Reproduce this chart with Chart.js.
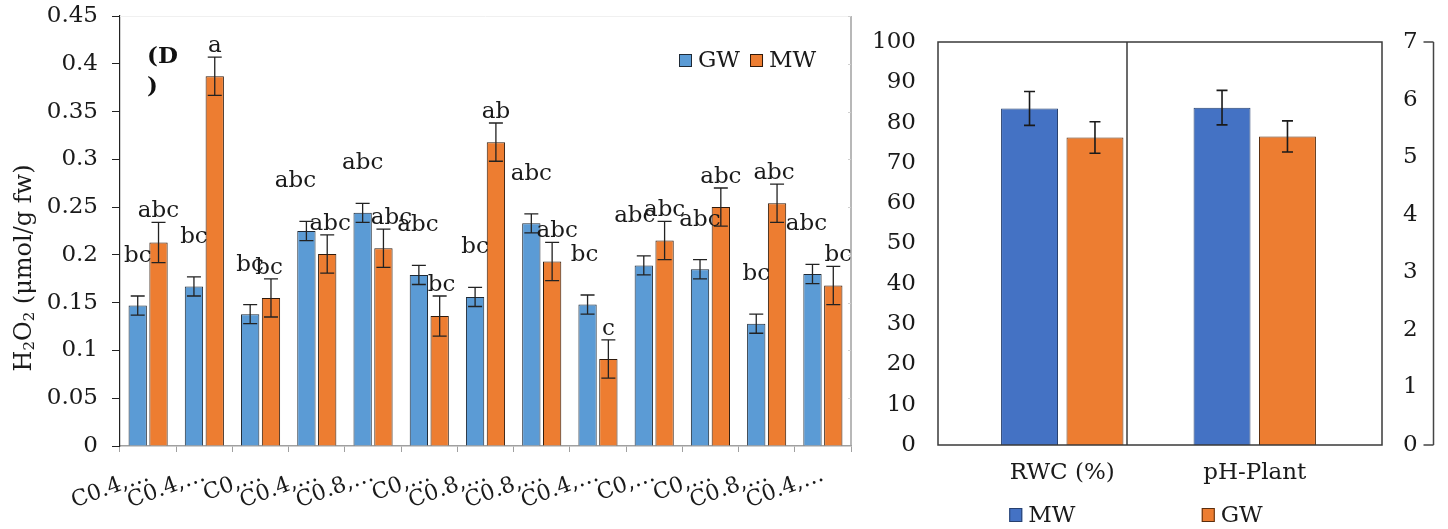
<!DOCTYPE html>
<html>
<head>
<meta charset="utf-8">
<title>H2O2, RWC and plant pH</title>
<script src="https://cdn.jsdelivr.net/npm/chart.js@4.4.1/dist/chart.umd.min.js"></script>
<style>
  html, body { margin: 0; padding: 0; background: #ffffff; }
  #wrap { position: relative; width: 1448px; height: 529px; overflow: hidden; }
  canvas { position: absolute; top: 0; }
  #h2o2 { left: 0; }
  #traits { left: 860px; }
</style>
</head>
<body>
<div id="wrap">
  <canvas id="h2o2" width="860" height="529"></canvas>
  <canvas id="traits" width="588" height="529"></canvas>
</div>
<script>
// ---- H2O2 content per treatment (µmol/g fw) ----
const treatments = ['C0.4,…', 'C0.4,…', 'C0,…', 'C0.4,…', 'C0.8,…', 'C0,…', 'C0.8,…',
                    'C0.8,…', 'C0.4,…', 'C0,…', 'C0,…', 'C0.8,…', 'C0.4,…'];
const gwH2O2    = [0.147, 0.167, 0.138, 0.225, 0.244, 0.179, 0.156, 0.233, 0.148, 0.189, 0.185, 0.128, 0.180];
const mwH2O2    = [0.213, 0.387, 0.155, 0.201, 0.207, 0.136, 0.318, 0.193, 0.091, 0.215, 0.250, 0.254, 0.168];
const gwH2O2Err = [0.010, 0.010, 0.010, 0.010, 0.010, 0.010, 0.010, 0.010, 0.010, 0.010, 0.010, 0.010, 0.010];
const mwH2O2Err = [0.021, 0.020, 0.020, 0.020, 0.020, 0.021, 0.020, 0.020, 0.020, 0.020, 0.020, 0.020, 0.020];
const gwLetters = ['bc', 'bc', 'bc', 'abc', 'abc', 'abc', 'bc', 'abc', 'bc', 'abc', 'abc', 'bc', 'abc'];
const mwLetters = ['abc', 'a', 'bc', 'abc', 'abc', 'bc', 'ab', 'abc', 'c', 'abc', 'abc', 'abc', 'bc'];
const h2o2Ticks = { min: 0, max: 0.45, step: 0.05 };

// ---- Relative water content and plant pH ----
const plantTraits = ['RWC (%)', 'pH-Plant'];
const mwTrait     = [83.5, 5.86];
const gwTrait     = [76.3, 5.36];
const mwTraitErr  = [4.2, 0.30];
const gwTraitErr  = [3.9, 0.27];
const rwcTicks = { min: 0, max: 100, step: 10 };
const phTicks  = { min: 0, max: 7, step: 1 };

// Horizontal nudges (px) for the significance letters so overlapping ones stay readable
const gwLetterNudge = [0, 0, 0, -11, 0, -1, 0, 0, -3, -9, 0, 0, -6];
const mwLetterNudge = [0, 0, -2, 3, 8, 2, 0, 5, 0, 0, 0, -3, 5];

const SERIF = "'DejaVu Serif', serif";
Chart.defaults.font.family = SERIF;
Chart.defaults.font.size = 23;
Chart.defaults.color = '#1a1a1a';

// keep the plot area where the layout padding puts it (no extra room for end labels)
function noEdgePadding(s) { s.paddingTop = 0; s.paddingBottom = 0; }

// Mean ± error whiskers drawn on top of every bar
const errorBars = {
  id: 'errorBars',
  afterDatasetsDraw(chart, args, opts) {
    const ctx = chart.ctx;
    chart.data.datasets.forEach((ds, di) => {
      const meta = chart.getDatasetMeta(di);
      const ys = chart.scales[meta.yAxisID];
      meta.data.forEach((bar, i) => {
        const v = ds.data[i];
        if (v == null) return;
        const e = ds.errors[i];
        const top = ys.getPixelForValue(v + e);
        const bot = ys.getPixelForValue(v - e);
        ctx.save();
        ctx.strokeStyle = opts.color;
        ctx.lineWidth = opts.width;
        ctx.beginPath();
        ctx.moveTo(bar.x, top); ctx.lineTo(bar.x, bot);
        ctx.moveTo(bar.x - opts.cap, top); ctx.lineTo(bar.x + opts.cap, top);
        ctx.moveTo(bar.x - opts.cap, bot); ctx.lineTo(bar.x + opts.cap, bot);
        ctx.stroke();
        ctx.restore();
      });
    });
  }
};

// Significance letters above the whiskers
const letterLabels = {
  id: 'letterLabels',
  afterDatasetsDraw(chart) {
    const ctx = chart.ctx;
    const ys = chart.scales.y;
    ctx.save();
    ctx.font = '23px ' + SERIF;
    ctx.fillStyle = '#1a1a1a';
    ctx.textAlign = 'center';
    ctx.textBaseline = 'middle';
    chart.data.datasets.forEach((ds, di) => {
      const meta = chart.getDatasetMeta(di);
      meta.data.forEach((bar, i) => {
        const y = ys.getPixelForValue(ds.data[i] + ds.errors[i]) - ds.letterLift;
        ctx.fillText(ds.letters[i], bar.x + ds.letterNudge[i], y);
      });
    });
    ctx.restore();
  }
};

// Rotated y title with real subscripts: H2O2 (µmol/g fw)
function drawYTitle(ctx, cx, cy) {
  const parts = [
    { t: 'H', size: 24, shift: 0 },
    { t: '2', size: 15, shift: 3 },
    { t: 'O', size: 24, shift: 0 },
    { t: '2', size: 15, shift: 3 },
    { t: ' (μmol/g fw)', size: 24, shift: 0 }
  ];
  let total = 0;
  parts.forEach(p => { ctx.font = p.size + 'px ' + SERIF; p.w = ctx.measureText(p.t).width; total += p.w; });
  ctx.save();
  ctx.translate(cx, cy);
  ctx.rotate(-Math.PI / 2);
  ctx.textAlign = 'left';
  ctx.textBaseline = 'alphabetic';
  ctx.fillStyle = '#1a1a1a';
  let x = -total / 2;
  parts.forEach(p => {
    ctx.font = p.size + 'px ' + SERIF;
    ctx.fillText(p.t, x, p.shift);
    x += p.w;
  });
  ctx.restore();
}

// Panel tag, axis title, frame and legend of the H2O2 panel
const h2o2Decor = {
  id: 'h2o2Decor',
  afterDraw(chart) {
    const { ctx, chartArea: a } = chart;
    const ys = chart.scales.y;
    ctx.save();
    // faint top edge and grey right edge with small ticks
    ctx.strokeStyle = '#f0f0f0';
    ctx.lineWidth = 1;
    ctx.beginPath(); ctx.moveTo(a.left, a.top + 0.5); ctx.lineTo(a.right, a.top + 0.5); ctx.stroke();
    ctx.strokeStyle = '#a0a0a0';
    ctx.lineWidth = 1.5;
    ctx.beginPath(); ctx.moveTo(a.right, a.top); ctx.lineTo(a.right, a.bottom); ctx.stroke();
    ctx.lineWidth = 1;
    ctx.strokeStyle = '#d0d0d0';
    for (let v = h2o2Ticks.min; v <= h2o2Ticks.max + 1e-9; v += h2o2Ticks.step) {
      const y = Math.round(ys.getPixelForValue(v)) + 0.5;
      ctx.beginPath(); ctx.moveTo(a.right - 3, y); ctx.lineTo(a.right, y); ctx.stroke();
    }
    // panel tag
    ctx.fillStyle = '#111';
    ctx.font = 'bold 23px ' + SERIF;
    ctx.textAlign = 'left';
    ctx.textBaseline = 'middle';
    ctx.fillText('(D', a.left + 27, a.top + 41);
    ctx.fillText(')', a.left + 27, a.top + 71);
    ctx.restore();

    drawYTitle(ctx, 31, a.top + 252);

    // legend, top right inside the plot
    ctx.save();
    ctx.font = '23px ' + SERIF;
    ctx.textAlign = 'left';
    ctx.textBaseline = 'alphabetic';
    let x = a.right - 172;
    const base = a.top + 51;
    chart.data.datasets.forEach(ds => {
      ctx.fillStyle = ds.backgroundColor;
      ctx.fillRect(x, base - 13, 13, 13);
      ctx.strokeStyle = ds.borderColor;
      ctx.lineWidth = 1;
      ctx.strokeRect(x + 0.5, base - 12.5, 12, 12);
      ctx.fillStyle = '#1a1a1a';
      ctx.fillText(ds.label, x + 19, base);
      x += 19 + ctx.measureText(ds.label).width + 10;
    });
    ctx.restore();
  }
};

new Chart(document.getElementById('h2o2'), {
  type: 'bar',
  data: {
    labels: treatments,
    datasets: [
      { label: 'GW', data: gwH2O2, errors: gwH2O2Err, letters: gwLetters, letterNudge: gwLetterNudge,
        letterLift: 40, backgroundColor: '#5B9BD5', borderColor: '#1f2a36', borderWidth: 1 },
      { label: 'MW', data: mwH2O2, errors: mwH2O2Err, letters: mwLetters, letterNudge: mwLetterNudge,
        letterLift: 11, backgroundColor: '#ED7D31', borderColor: '#2f1a0c', borderWidth: 1 }
    ]
  },
  options: {
    responsive: false,
    animation: false,
    devicePixelRatio: 1,
    layout: { padding: { top: 16, right: 9, left: 0, bottom: 0 } },
    datasets: { bar: { categoryPercentage: 0.74, barPercentage: 0.88 } },
    scales: {
      x: {
        grid: { display: true, drawOnChartArea: false, drawTicks: true, tickLength: 6, color: '#a0a0a0', offset: true },
        border: { display: true, color: '#a0a0a0', width: 1.5 },
        ticks: { autoSkip: false, minRotation: 20, maxRotation: 20, padding: 10, font: { size: 22 }, color: '#1a1a1a' },
        afterFit(s) { s.height = 83; }
      },
      y: {
        min: h2o2Ticks.min, max: h2o2Ticks.max,
        ticks: { stepSize: h2o2Ticks.step, padding: 14, callback: v => String(+v.toFixed(2)) },
        grid: { display: true, drawOnChartArea: false, drawTicks: true, tickLength: 8, color: '#222' },
        border: { display: true, color: '#222', width: 1.2 },
        afterFit(s) { s.width = 120; noEdgePadding(s); }
      }
    },
    plugins: {
      legend: { display: false },
      tooltip: { enabled: false },
      errorBars: { color: '#222', width: 1.3, cap: 7 }
    }
  },
  plugins: [errorBars, letterLabels, h2o2Decor]
});

// ---- RWC / pH panel: one dataset per trait and water type, each on its own axis ----
const traitDatasets = [];
plantTraits.forEach((t, i) => {
  const axis = i === 0 ? 'y' : 'y2';
  const only = (arr) => plantTraits.map((_, j) => (j === i ? arr[i] : null));
  traitDatasets.push({ label: 'MW', data: only(mwTrait), errors: only(mwTraitErr), yAxisID: axis,
    backgroundColor: '#4472C4', borderColor: '#27406e', borderWidth: 1, skipNull: true });
  traitDatasets.push({ label: 'GW', data: only(gwTrait), errors: only(gwTraitErr), yAxisID: axis,
    backgroundColor: '#ED7D31', borderColor: '#5a2e0e', borderWidth: 1, skipNull: true });
});

const traitDecor = {
  id: 'traitDecor',
  afterDraw(chart) {
    const { ctx, chartArea: a } = chart;
    const xs = chart.scales.x;
    ctx.save();
    // plot frames for the two traits
    ctx.strokeStyle = '#3a3a3a';
    ctx.lineWidth = 1.5;
    const left = a.left - 28, right = a.right + 31, divider = a.left + 161;
    ctx.strokeRect(left, a.top, right - left, a.bottom - a.top);
    ctx.beginPath(); ctx.moveTo(divider, a.top); ctx.lineTo(divider, a.bottom); ctx.stroke();
    // pH axis line with end ticks
    const ax = a.right + 82.5;
    ctx.strokeStyle = '#444';
    ctx.beginPath();
    ctx.moveTo(ax, a.top); ctx.lineTo(ax, a.bottom);
    ctx.moveTo(ax - 10, a.top); ctx.lineTo(ax, a.top);
    ctx.moveTo(ax - 10, a.bottom); ctx.lineTo(ax, a.bottom);
    ctx.stroke();

    // legend: one entry under each trait
    ctx.font = '23px ' + SERIF;
    ctx.textAlign = 'left';
    ctx.textBaseline = 'alphabetic';
    const base = a.bottom + 77;
    const entries = [traitDatasets[0], traitDatasets[1]];
    entries.forEach((ds, k) => {
      const x = xs.getPixelForValue(k) - 53;
      ctx.fillStyle = ds.backgroundColor;
      ctx.fillRect(x, base - 14, 13, 14);
      ctx.strokeStyle = ds.borderColor;
      ctx.lineWidth = 1;
      ctx.strokeRect(x + 0.5, base - 13.5, 12, 13);
      ctx.fillStyle = '#1a1a1a';
      ctx.fillText(ds.label, x + 19, base);
    });
    ctx.restore();
  }
};

new Chart(document.getElementById('traits'), {
  type: 'bar',
  data: { labels: plantTraits, datasets: traitDatasets },
  options: {
    responsive: false,
    animation: false,
    devicePixelRatio: 1,
    layout: { padding: { top: 42, right: 0, left: 0, bottom: 0 } },
    datasets: { bar: { categoryPercentage: 0.68, barPercentage: 0.87 } },
    scales: {
      x: {
        grid: { display: false, drawTicks: false },
        border: { display: false },
        ticks: { padding: 14, color: '#1a1a1a' },
        afterFit(s) { s.height = 84; }
      },
      y: {
        position: 'left',
        min: rwcTicks.min, max: rwcTicks.max,
        ticks: { stepSize: rwcTicks.step, padding: 50 },
        grid: { display: false, drawTicks: false },
        border: { display: false },
        afterFit(s) { s.width = 106; noEdgePadding(s); }
      },
      y2: {
        position: 'right',
        min: phTicks.min, max: phTicks.max,
        ticks: { stepSize: phTicks.step, padding: 52 },
        grid: { display: false, drawTicks: false },
        border: { display: false },
        afterFit(s) { s.width = 97; noEdgePadding(s); }
      }
    },
    plugins: {
      legend: { display: false },
      tooltip: { enabled: false },
      errorBars: { color: '#1a1a1a', width: 1.6, cap: 5.5 }
    }
  },
  plugins: [errorBars, traitDecor]
});
</script>
</body>
</html>
